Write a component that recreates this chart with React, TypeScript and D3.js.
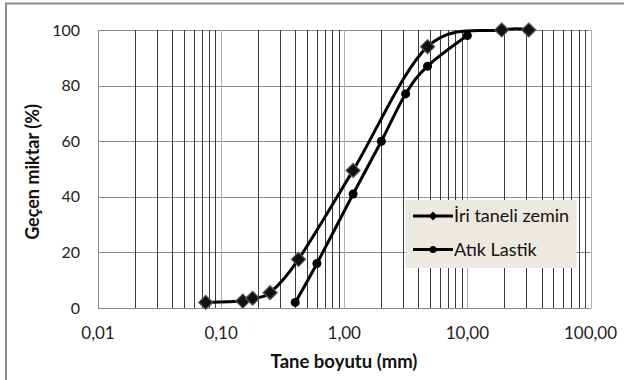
import React from "react";
import * as d3 from "d3";

const soilSize = [0.075, 0.15, 0.18, 0.25, 0.425, 1.18, 4.75, 19, 31.5];
const soilPass = [2, 2.5, 3.5, 5.5, 17.5, 49.5, 94, 100, 100];
const tireSize = [0.4, 0.6, 1.18, 2, 3.15, 4.75, 10];
const tirePass = [2, 16, 41, 60, 77, 87, 98];
const xTicks = [0.01, 0.1, 1, 10, 100];
const xTickLabels = ["0,01", "0,10", "1,00", "10,00", "100,00"];
const yTicks = [0, 20, 40, 60, 80, 100];
const seriesNames = ["İri taneli zemin", "Atık Lastik"];

const W = 624, H = 380;
const L = 98, R = 590.5, T = 30, B = 308;
const FONT = "Lato, 'Open Sans', sans-serif";

export default function App() {
  const x = d3.scaleLog().domain([0.01, 100]).range([L, R]);
  const y = d3.scaleLinear().domain([0, 100]).range([B, T]);
  const line = d3
    .line<[number, number]>()
    .x((d) => x(d[0]))
    .y((d) => y(d[1]))
    .curve(d3.curveCardinal.tension(0));
  const soil = soilSize.map((s, i) => [s, soilPass[i]] as [number, number]);
  const tire = tireSize.map((s, i) => [s, tirePass[i]] as [number, number]);

  const minor: number[] = [];
  for (let e = -2; e < 2; e++) {
    for (let k = 2; k <= 9; k++) minor.push(k * Math.pow(10, e));
  }

  const diamond = (cx: number, cy: number, r: number) =>
    `M${cx},${cy - r}L${cx + r},${cy}L${cx},${cy + r}L${cx - r},${cy}Z`;

  return (
    <svg width={W} height={H} style={{ position: "absolute", left: 0, top: 0 }}>
      <rect x={0} y={0} width={W} height={H} fill="#fff" />
      <rect x={6} y={3.5} width={W + 20} height={H + 20} fill="#fff" stroke="#8c8c8c" strokeWidth={2} />
      {/* horizontal grid */}
      {yTicks.map((t) => (
        <line key={"h" + t} x1={L} x2={R} y1={Math.round(y(t)) + 0.5} y2={Math.round(y(t)) + 0.5} stroke="#8a8a8a" strokeWidth={1} />
      ))}
      {/* minor vertical grid */}
      {minor.map((m, i) => (
        <line key={"m" + i} x1={Math.round(x(m)) + 0.5} x2={Math.round(x(m)) + 0.5} y1={T} y2={B} stroke="#3a3a3a" strokeWidth={1} />
      ))}
      {/* major vertical grid */}
      {xTicks.map((t) => (
        <line key={"v" + t} x1={Math.round(x(t)) + 0.5} x2={Math.round(x(t)) + 0.5} y1={T} y2={B} stroke="#b0b0b0" strokeWidth={1} />
      ))}
      <line x1={L + 0.5} x2={L + 0.5} y1={T} y2={B} stroke="#8a8a8a" />
      <line x1={L} x2={R} y1={Math.round(B) + 0.5} y2={Math.round(B) + 0.5} stroke="#8a8a8a" />
      {/* tick labels */}
      {yTicks.map((t) => (
        <text key={"yl" + t} x={80} y={y(t)} dy="0.35em" textAnchor="end" fontFamily={FONT} fontSize={16} fill="#222">
          {t}
        </text>
      ))}
      {xTicks.map((t, i) => (
        <text key={"xl" + t} x={x(t)} y={333} dy="0.35em" textAnchor="middle" fontFamily={FONT} fontSize={17} fill="#222">
          {xTickLabels[i]}
        </text>
      ))}
      <text x={344} y={362} dy="0.35em" textAnchor="middle" fontFamily={FONT} fontSize={18.5} fontWeight="bold" fill="#111">
        Tane boyutu (mm)
      </text>
      <text transform={`translate(33,172) rotate(-90)`} dy="0.35em" textAnchor="middle" fontFamily={FONT} fontSize={18} fontWeight="bold" fill="#111">
        Geçen miktar (%)
      </text>
      {/* series */}
      <path d={line(soil) || ""} fill="none" stroke="#000" strokeWidth={3} />
      <path d={line(tire) || ""} fill="none" stroke="#000" strokeWidth={3} />
      {soil.map((d, i) => (
        <path key={"sd" + i} d={diamond(x(d[0]), y(d[1]), 7)} fill="#111" stroke="#555" strokeWidth={1.2} />
      ))}
      {tire.map((d, i) => (
        <circle key={"tc" + i} cx={x(d[0])} cy={y(d[1])} r={4.5} fill="#000" />
      ))}
      {/* legend */}
      <rect x={405.5} y={200} width={171} height={68} fill="#ECE9E0" />
      <line x1={413} x2={453} y1={216} y2={216} stroke="#000" strokeWidth={3} />
      <path d={diamond(433, 216, 4.5)} fill="#000" />
      <text x={454} y={216} dy="0.35em" fontFamily={FONT} fontSize={18} fill="#111">
        {seriesNames[0]}
      </text>
      <line x1={413} x2={453} y1={249.5} y2={249.5} stroke="#000" strokeWidth={3} />
      <circle cx={433} cy={249.5} r={3.5} fill="#000" />
      <text x={454} y={249.5} dy="0.35em" fontFamily={FONT} fontSize={18} fill="#111">
        {seriesNames[1]}
      </text>
    </svg>
  );
}
